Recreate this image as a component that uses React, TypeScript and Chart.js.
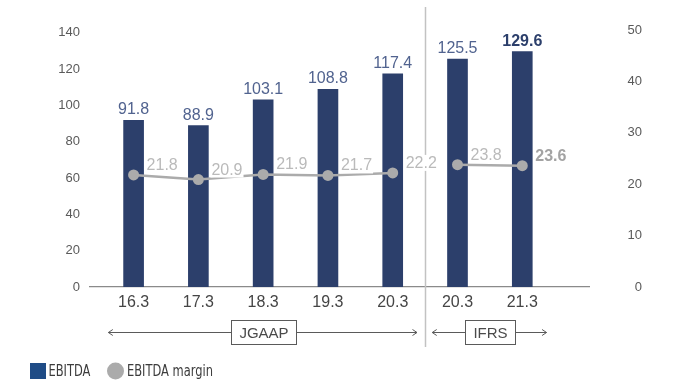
import React, { useEffect, useRef } from 'react';
import { Chart, registerables } from 'chart.js';

Chart.register(...registerables);

const categories = ['16.3', '17.3', '18.3', '19.3', '20.3', '20.3', '21.3'];
const standards = ['JGAAP', 'JGAAP', 'JGAAP', 'JGAAP', 'JGAAP', 'IFRS', 'IFRS'];
const ebitda = [91.8, 88.9, 103.1, 108.8, 117.4, 125.5, 129.6];
const ebitdaMargin = [21.8, 20.9, 21.9, 21.7, 22.2, 23.8, 23.6];
const leftTicks = [0, 20, 40, 60, 80, 100, 120, 140];
const rightTicks = [0, 10, 20, 30, 40, 50];
const seriesNames = ['EBITDA', 'EBITDA margin'];
const groupLabels = ['JGAAP', 'IFRS'];

const BAR_COLOR = '#2c3f6b';
const BAR_LABEL = '#51638f';
const LINE_COLOR = '#ababab';
const LINE_LABEL = '#bababa';
const FONT = '"Liberation Sans", Arial, sans-serif';
const NARROW = '"Liberation Sans Narrow", "DejaVu Sans Condensed", "Liberation Sans", sans-serif';

function arrowHead(ctx: CanvasRenderingContext2D, x: number, y: number, dir: number) {
  ctx.beginPath();
  ctx.moveTo(x - dir * 4.5, y - 3);
  ctx.lineTo(x, y);
  ctx.lineTo(x - dir * 4.5, y + 3);
  ctx.stroke();
}

function narrowText(ctx: CanvasRenderingContext2D, txt: string, x: number, y: number, sx: number) {
  ctx.save();
  ctx.translate(x, y);
  ctx.scale(sx, 1);
  ctx.fillText(txt, 0, 0);
  ctx.restore();
}

const decorPlugin = {
  id: 'decor',
  beforeDatasetsDraw(chart: any) {
    const ctx = chart.ctx as CanvasRenderingContext2D;
    const xs = chart.scales.x;
    const split = standards.findIndex((s) => s !== standards[0]);
    const dx = Math.round(xs.getPixelForValue(split - 0.5)) + 0.5;
    ctx.save();
    ctx.strokeStyle = '#c2c2c2';
    ctx.lineWidth = 1.5;
    ctx.beginPath();
    ctx.moveTo(dx, 7);
    ctx.lineTo(dx, 347);
    ctx.stroke();
    ctx.restore();
  },
  afterDatasetsDraw(chart: any) {
    const ctx = chart.ctx as CanvasRenderingContext2D;
    const bars = chart.getDatasetMeta(0).data;
    const pts = chart.getDatasetMeta(1).data;
    const last = ebitda.length - 1;
    ctx.save();
    ctx.textBaseline = 'alphabetic';
    bars.forEach((b: any, i: number) => {
      const bold = i === last;
      ctx.font = `${bold ? 'bold ' : ''}16px ${FONT}`;
      ctx.fillStyle = bold ? BAR_COLOR : BAR_LABEL;
      ctx.textAlign = 'center';
      ctx.fillText(ebitda[i].toFixed(1), b.x, b.y - 6);
    });
    pts.forEach((p: any, i: number) => {
      const bold = i === last;
      ctx.font = `${bold ? 'bold ' : ''}16px ${FONT}`;
      const txt = ebitdaMargin[i].toFixed(1);
      const w = ctx.measureText(txt).width;
      const tx = p.x + 13;
      const ty = p.y - 5;
      ctx.fillStyle = '#ffffff';
      ctx.fillRect(tx - 1, ty - 13, w + 2, 16);
      ctx.fillStyle = bold ? '#a3a3a3' : LINE_LABEL;
      ctx.textAlign = 'left';
      ctx.fillText(txt, tx, ty);
    });
    ctx.restore();
  },
  afterDraw(chart: any) {
    const ctx = chart.ctx as CanvasRenderingContext2D;
    const xs = chart.scales.x;
    ctx.save();
    const ay = 332.5;
    groupLabels.forEach((g) => {
      const first = standards.indexOf(g);
      const lastIdx = standards.lastIndexOf(g);
      const x0 = xs.getPixelForValue(first - 0.39);
      const x1 = xs.getPixelForValue(lastIdx + 0.375);
      const cx = xs.getPixelForValue((first + lastIdx) / 2);
      ctx.font = `15px ${FONT}`;
      const tw = ctx.measureText(g).width;
      const bw = Math.round(tw + 16);
      const bx = Math.round(cx - bw / 2) + 0.5;
      const by = 320.5;
      const bh = 24;
      ctx.strokeStyle = '#5a5a5a';
      ctx.lineWidth = 1;
      ctx.beginPath();
      ctx.moveTo(x0, ay);
      ctx.lineTo(bx, ay);
      ctx.moveTo(bx + bw, ay);
      ctx.lineTo(x1, ay);
      ctx.stroke();
      arrowHead(ctx, x0, ay, -1);
      arrowHead(ctx, x1, ay, 1);
      ctx.strokeRect(bx, by, bw, bh);
      ctx.fillStyle = '#4a4a4a';
      ctx.textAlign = 'center';
      ctx.textBaseline = 'middle';
      ctx.fillText(g, bx + bw / 2, by + bh / 2 + 1);
    });
    // legend
    const ly = 371;
    ctx.fillStyle = '#1f4c86';
    ctx.fillRect(30, 363, 16, 16);
    ctx.font = `15px ${NARROW}`;
    ctx.fillStyle = '#3c3c3c';
    ctx.textAlign = 'left';
    ctx.textBaseline = 'middle';
    narrowText(ctx, seriesNames[0], 48.5, ly + 1, 0.85);
    ctx.fillStyle = LINE_COLOR;
    ctx.beginPath();
    ctx.arc(115.5, ly, 8.5, 0, Math.PI * 2);
    ctx.fill();
    ctx.fillStyle = '#3c3c3c';
    narrowText(ctx, seriesNames[1], 127, ly + 1, 0.85);
    ctx.restore();
  },
};

export default function App() {
  const ref = useRef<HTMLCanvasElement | null>(null);
  useEffect(() => {
    if (!ref.current) return;
    const chart = new Chart(ref.current, {
      type: 'bar',
      data: {
        datasets: [
          {
            type: 'bar',
            label: seriesNames[0],
            data: ebitda.map((v, i) => ({ x: i, y: v })),
            backgroundColor: BAR_COLOR,
            barThickness: 20,
            yAxisID: 'y',
            order: 2,
          } as any,
          {
            type: 'line',
            label: seriesNames[1],
            data: ebitdaMargin.map((v, i) => ({ x: i, y: v })),
            borderColor: LINE_COLOR,
            borderWidth: 2.5,
            pointRadius: 5.5,
            pointBackgroundColor: LINE_COLOR,
            pointBorderWidth: 0,
            tension: 0,
            yAxisID: 'y1',
            order: 1,
            segment: {
              borderColor: (c: any) =>
                standards[c.p0DataIndex] !== standards[c.p1DataIndex] ? 'rgba(0,0,0,0)' : undefined,
            },
          } as any,
        ],
      },
      options: {
        animation: false,
        responsive: false,
        events: [],
        layout: { padding: { left: 0, right: 40, top: 30, bottom: 0 } },
        plugins: { legend: { display: false }, tooltip: { enabled: false } },
        scales: {
          x: {
            type: 'linear',
            offset: false,
            min: -0.673,
            max: 7.03,
            grid: { display: false, drawTicks: false, offset: false },
            border: { display: true, color: '#8a8a8a', width: 1.2 },
            afterBuildTicks: (s: any) => {
              s.ticks = categories.map((_, i) => ({ value: i }));
            },
            afterFit: (s: any) => {
              s.height = 95;
            },
            ticks: {
              padding: 6,
              autoSkip: false,
              maxRotation: 0,
              color: '#454545',
              font: { size: 16, family: FONT },
              callback: (v: any) => categories[v],
            },
          },
          y: {
            position: 'left',
            min: 0,
            max: 141.5,
            grid: { display: false, drawTicks: false },
            border: { display: false },
            afterBuildTicks: (s: any) => {
              s.ticks = leftTicks.map((v) => ({ value: v }));
            },
            afterFit: (s: any) => {
              s.width = 90;
            },
            ticks: {
              padding: 10,
              color: '#5a5a5a',
              font: { size: 13, family: FONT },
            },
          },
          y1: {
            position: 'right',
            min: 0,
            max: 50,
            grid: { display: false, drawTicks: false },
            border: { display: false },
            afterBuildTicks: (s: any) => {
              s.ticks = rightTicks.map((v) => ({ value: v }));
            },
            afterFit: (s: any) => {
              s.width = 53;
            },
            ticks: {
              crossAlign: 'far',
              padding: 10,
              color: '#5a5a5a',
              font: { size: 13, family: FONT },
            },
          },
        },
      } as any,
      plugins: [decorPlugin],
    });
    return () => chart.destroy();
  }, []);
  return (
    <div style={{ position: 'absolute', left: 0, top: 0, width: 682, height: 382, background: '#fff' }}>
      <canvas ref={ref} width={682} height={382} style={{ display: 'block' }} />
    </div>
  );
}
